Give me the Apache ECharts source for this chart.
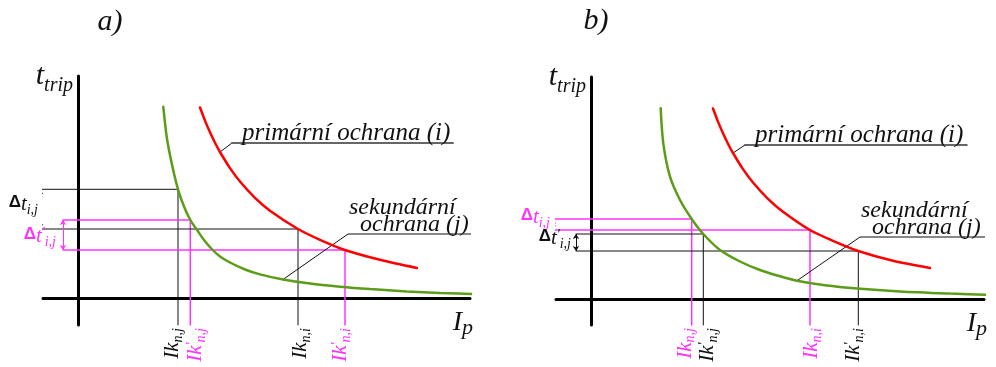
<!DOCTYPE html>
<html>
<head>
<meta charset="utf-8">
<script src="https://cdn.jsdelivr.net/npm/echarts@6/dist/echarts.min.js"></script>
<style>
  html, body { margin: 0; padding: 0; background: #fff; }
  #chart { width: 996px; height: 367px; }
</style>
</head>
<body>
<div id="chart"></div>
<script>
// Inverse-time tripping characteristics, I (current) vs t (time) in relative units.
// Panel a)
const secondaryA = [[8.53, 19.13], [8.87, 16.13], [9.37, 13.47], [10.0, 10.87], [10.6, 9.15], [11.23, 7.8], [11.87, 6.85], [12.6, 5.8], [13.37, 4.9], [14.2, 4.15], [15.2, 3.55], [16.7, 2.85], [18.2, 2.36], [20.5, 1.85], [23.2, 1.44], [26.2, 1.13], [29.2, 0.89], [32.9, 0.65], [36.2, 0.5], [40.4, 0.37]];
const primaryA = [[12.2, 19.05], [12.7, 17.74], [13.2, 16.57], [13.7, 15.53], [14.2, 14.6], [15.2, 12.99], [16.2, 11.65], [17.7, 10.02], [19.2, 8.73], [22.0, 6.9], [24.2, 5.82], [26.7, 4.8], [30.2, 3.82], [33.9, 3.0]];
// short-circuit currents: Ik(n,j), Ik'(n,j), Ik(n,i), Ik'(n,i) with the matching trip times
const currentsA = [[10.0, 10.87], [11.23, 7.8], [22.0, 6.9], [26.7, 4.8]];
// leader lines of the curve captions
const leaderPrimaryA = [[14.2, 14.6], [15.4, 15.5], [37.5, 15.5]];
const leaderSecondaryA = [[20.5, 1.85], [27.0, 6.4], [41.0, 6.4]];

// Panel b)
const secondaryB = [[6.97, 19.07], [7.23, 15.57], [7.9, 12.23], [8.9, 9.9], [10.07, 8.0], [11.23, 6.5], [12.9, 4.9], [14.9, 3.75], [16.9, 2.9], [18.9, 2.27], [20.6, 1.83], [23.4, 1.37], [26.6, 1.04], [30.9, 0.75], [35.9, 0.54], [40.2, 0.4]];
const primaryB = [[12.2, 19.05], [12.7, 17.74], [13.2, 16.57], [13.7, 15.53], [14.2, 14.6], [15.2, 12.99], [16.2, 11.65], [17.7, 10.02], [19.2, 8.73], [21.9, 6.9], [24.2, 5.82], [26.73, 4.8], [30.2, 3.82], [33.9, 3.1]];
const currentsB = [[10.07, 8.0], [11.23, 6.5], [21.9, 6.9], [26.73, 4.8]];
const leaderPrimaryB = [[14.2, 14.6], [15.4, 15.4], [37.6, 15.4]];
const leaderSecondaryB = [[20.6, 1.83], [26.9, 6.2], [40.5, 6.2]];

// Texts
const panelTitles = ['a)', 'b)'];
const captionPrimary = 'primární ochrana (i)';
const captionSecondary = ['sekundární', 'ochrana (j)'];
const currentSubs = ['n,j', 'n,j', 'n,i', 'n,i'];
const currentPrimed = [false, true, false, true];

const SERIF = "'Liberation Serif', 'DejaVu Serif', serif";
const SANS = "'Liberation Sans', 'DejaVu Sans', sans-serif";
const BLACK = '#111111', MAGENTA = '#ff33ff', RED = '#ff0000', GREEN = '#5b9d18';

// grid geometry (pixels) and axis extents (relative units, 10 px per unit)
const panels = [
  { left: 43, top: 76, width: 427, height: 249, xMin: -3.5, xMax: 39.2, yMin: -2.7, yMax: 22.2,
    sec: secondaryA, pri: primaryA, cur: currentsA, lp: leaderPrimaryA, ls: leaderSecondaryA,
    colors: [BLACK, MAGENTA], lpColor: '#666', lpWidth: 2,
    ikDx: [-16, -5, -8, -15] },
  { left: 556, top: 77, width: 428, height: 248, xMin: -3.5, xMax: 39.3, yMin: -2.6, yMax: 22.2,
    sec: secondaryB, pri: primaryB, cur: currentsB, lp: leaderPrimaryB, ls: leaderSecondaryB,
    colors: [MAGENTA, BLACK], lpColor: '#333', lpWidth: 1.5,
    ikDx: [-17, -6, -9, -15] }
];
const bracketX = [-3.8, -1.5];

const chart = echarts.init(document.getElementById('chart'));

const grids = [], xAxes = [], yAxes = [], series = [];
function polyline(gi, data, color, width, z, smooth) {
  series.push({
    type: 'line', xAxisIndex: gi, yAxisIndex: gi, data: data,
    showSymbol: false, symbol: 'none', clip: false, silent: true,
    smooth: smooth || false, z: z,
    lineStyle: { color: color, width: width, cap: 'round' }
  });
}

panels.forEach((p, gi) => {
  grids.push({ left: p.left, top: p.top, width: p.width, height: p.height });
  const axisCommon = {
    type: 'value', gridIndex: gi,
    axisLine: { show: true, onZero: true, lineStyle: { color: '#000', width: 3 } },
    axisTick: { show: false }, axisLabel: { show: false }, splitLine: { show: false }
  };
  xAxes.push(Object.assign({ min: p.xMin, max: p.xMax }, axisCommon));
  yAxes.push(Object.assign({ min: p.yMin, max: p.yMax }, axisCommon));

  // drop lines from the time axis to the curve and down to the current axis
  p.cur.forEach((c, k) => {
    const color = p.colors[k % 2];
    const bx = bracketX[k % 2];
    polyline(gi, [[bx, c[1]], [c[0], c[1]], [c[0], p.yMin]], color, color === MAGENTA ? 1.5 : 1, 3);
  });
  // Δt brackets
  [0, 1].forEach(k => {
    const color = p.colors[k];
    series.push({
      type: 'lines', coordinateSystem: 'cartesian2d', xAxisIndex: gi, yAxisIndex: gi,
      symbol: ['arrow', 'arrow'], symbolSize: 5, silent: true, z: 4,
      lineStyle: { color: color, width: 1, opacity: 1 },
      data: [{ coords: [[bracketX[k], p.cur[k][1]], [bracketX[k], p.cur[k + 2][1]]] }]
    });
  });
  // characteristics
  polyline(gi, p.sec, GREEN, 2.5, 6, 0.3);
  polyline(gi, p.pri, RED, 2.5, 6, 0.3);
  // caption leaders
  polyline(gi, p.lp.slice(0, 2), BLACK, 1, 5);
  polyline(gi, p.lp.slice(1), p.lpColor, p.lpWidth, 5);
  polyline(gi, p.ls, BLACK, 1, 5);
});

chart.setOption({
  animation: false,
  backgroundColor: '#fff',
  grid: grids, xAxis: xAxes, yAxis: yAxes, series: series
});

// ---- labels ----
function richStyles(fill) {
  return {
    m: { fontFamily: SERIF, fontStyle: 'italic', fontSize: 21, lineHeight: 21, verticalAlign: 'top', fill: fill },
    p: { fontFamily: SERIF, fontStyle: 'italic', fontSize: 14, lineHeight: 14, verticalAlign: 'top', fill: fill },
    s: { fontFamily: SERIF, fontStyle: 'italic', fontSize: 14, lineHeight: 14, verticalAlign: 'top', padding: [9, 0, 0, 0], fill: fill },
    d: { fontFamily: SANS, fontWeight: 'bold', fontSize: 17, lineHeight: 21, verticalAlign: 'top', fill: fill },
    big: { fontFamily: SERIF, fontStyle: 'italic', fontSize: 30, lineHeight: 30, verticalAlign: 'top', fill: fill },
    sub: { fontFamily: SERIF, fontStyle: 'italic', fontSize: 20, lineHeight: 20, verticalAlign: 'top', padding: [15, 0, 0, 0], fill: fill },
    cap: { fontFamily: SERIF, fontStyle: 'italic', fontSize: 28, lineHeight: 28, verticalAlign: 'top', fill: fill },
    psub: { fontFamily: SERIF, fontStyle: 'italic', fontSize: 22, lineHeight: 22, verticalAlign: 'top', padding: [8, 0, 0, 0], fill: fill }
  };
}
function text(x, y, str, opt) {
  return Object.assign({
    type: 'text', x: x, y: y, silent: true, z: 10,
    style: Object.assign({
      text: str, fill: BLACK, align: 'left', verticalAlign: 'top',
      fontFamily: SERIF, fontStyle: 'italic', fontSize: 24
    }, opt.style || {})
  }, opt.el || {});
}

const graphics = [];
const layout = [
  { title: [110, 22], tAxis: [73, 61], iAxis: [473, 309], dT: [[38, 194], [56, 226]] },
  { title: [596, 21], tAxis: [586, 62], iAxis: [987, 310], dT: [[550, 207], [571, 228]] }
];

panels.forEach((p, gi) => {
  const L = layout[gi];
  const toPx = pt => chart.convertToPixel({ gridIndex: gi }, pt);

  graphics.push(text(L.title[0], L.title[1], panelTitles[gi], {
    style: { align: 'center', verticalAlign: 'middle', fontSize: 30 }
  }));
  // time axis name t_trip
  graphics.push(text(L.tAxis[0], L.tAxis[1], '{big|t}{sub|trip}', {
    style: { align: 'right', rich: richStyles(BLACK) }
  }));
  // current axis name I_p
  graphics.push(text(L.iAxis[0], L.iAxis[1], '{cap|I}{psub|p}', {
    style: { align: 'right', rich: richStyles(BLACK) }
  }));

  // Δt labels next to the brackets
  [0, 1].forEach(k => {
    const color = p.colors[k];
    const s = k === 1 ? '{d|Δ}{m|t}{p|\'}{s|i,j}' : '{d|Δ}{m|t}{s|i,j}';
    graphics.push(text(L.dT[k][0], L.dT[k][1], s, {
      style: { align: 'right', rich: richStyles(color) }
    }));
  });

  // rotated current labels under the drop lines
  p.cur.forEach((c, k) => {
    const color = p.colors[k % 2];
    const px = toPx([c[0], p.yMin]);
    const s = currentPrimed[k] ? '{m|Ik}{p|\'}{s|' + currentSubs[k] + '}' : '{m|Ik}{s|' + currentSubs[k] + '}';
    graphics.push(text(px[0] + p.ikDx[k], px[1] + 3, s, {
      el: { rotation: Math.PI / 2 },
      style: { align: 'right', rich: richStyles(color) }
    }));
  });

  // curve captions on their leader lines
  const lp = toPx(p.lp[1]);
  graphics.push(text(lp[0] + 10, lp[1] - 10, captionPrimary, {
    style: { verticalAlign: 'middle', fontSize: 25 }
  }));
  const ls = toPx(p.ls[1]);
  graphics.push(text(ls[0] + 1, ls[1] - 26, captionSecondary[0], {
    style: { verticalAlign: 'middle' }
  }));
  graphics.push(text(ls[0] + 12, ls[1] - 9, captionSecondary[1], {
    style: { verticalAlign: 'middle' }
  }));
});

chart.setOption({ graphic: graphics });
</script>
</body>
</html>
